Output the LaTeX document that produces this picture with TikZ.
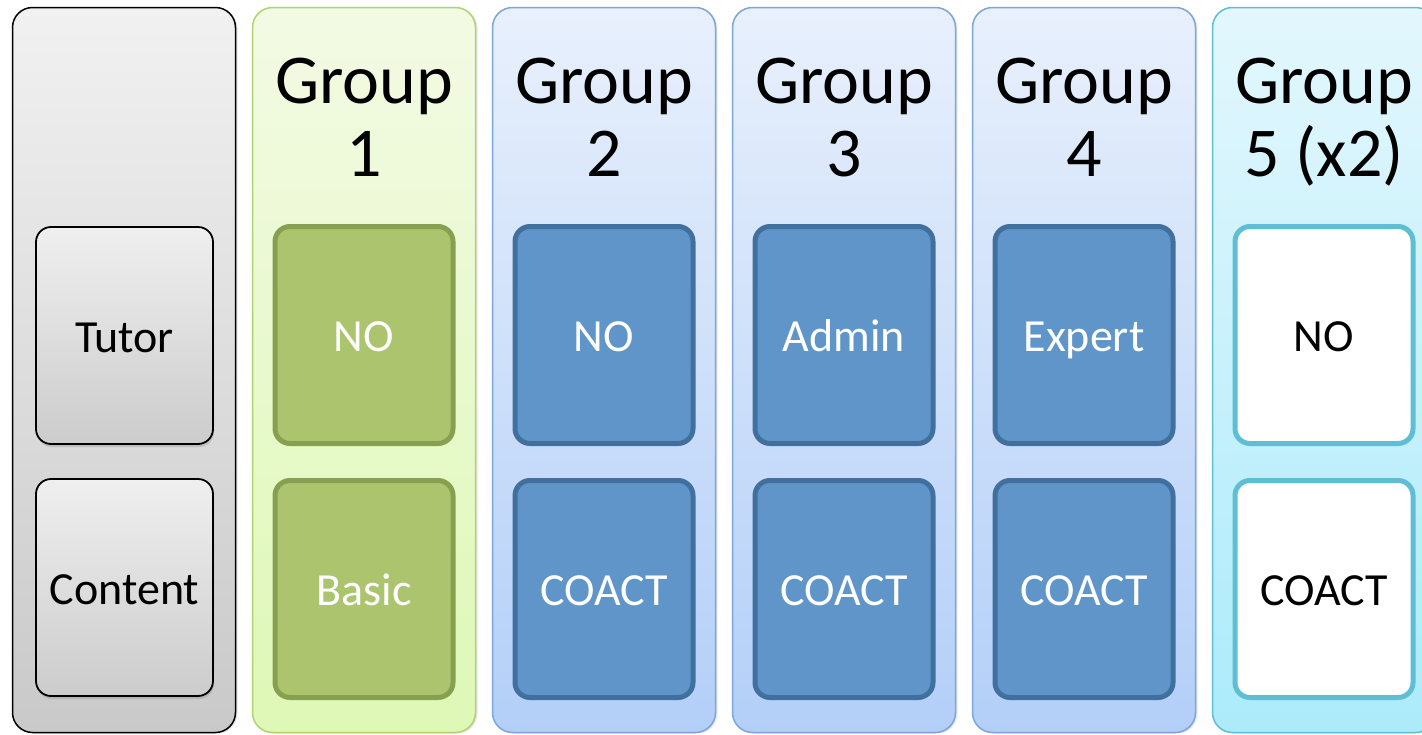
\documentclass[tikz,border=0pt]{standalone}
\usepackage{fontspec}
\setmainfont{Carlito}
\usetikzlibrary{shadows}
\definecolor{grayTop}{HTML}{F1F1F1}
\definecolor{grayBot}{HTML}{C9C9C9}
\definecolor{gboxTop}{HTML}{EFEFEF}
\definecolor{gboxBot}{HTML}{CCCCCC}
\definecolor{greenTop}{HTML}{F3FAE4}
\definecolor{greenBot}{HTML}{DEF8B6}
\definecolor{greenLine}{HTML}{B0D372}
\definecolor{greenFill}{HTML}{ABC46D}
\definecolor{greenDark}{HTML}{87A04F}
\definecolor{blueTop}{HTML}{E8F0FC}
\definecolor{blueBot}{HTML}{B3CFF8}
\definecolor{blueLine}{HTML}{7BA5DB}
\definecolor{blueFill}{HTML}{6095C9}
\definecolor{blueDark}{HTML}{41709E}
\definecolor{cyanTop}{HTML}{E3F7FD}
\definecolor{cyanBot}{HTML}{ACEBFB}
\definecolor{cyanLine}{HTML}{5EBED4}
\begin{document}
\begin{tikzpicture}[x=1pt,y=-1pt,
  col/.style={rounded corners=20pt, minimum width=223pt, minimum height=725pt, inner sep=0pt, line width=1.5pt,
    drop shadow={shadow xshift=2pt,shadow yshift=-1pt,opacity=0.2}},
  graycol/.style={col, draw=black, top color=grayTop, bottom color=grayBot},
  greencol/.style={col, draw=greenLine, top color=greenTop, bottom color=greenBot},
  bluecol/.style={col, draw=blueLine, top color=blueTop, bottom color=blueBot},
  cyancol/.style={col, draw=cyanLine, top color=cyanTop, bottom color=cyanBot},
  box/.style={rounded corners=15pt, inner sep=0pt, text height=33pt, text depth=0pt, font=\fontsize{46}{52}\selectfont},
  graybox/.style={box, minimum width=177pt, minimum height=217pt, line width=1.8pt, draw=black,
    top color=gboxTop, bottom color=gboxBot, text=black,
    drop shadow={shadow xshift=1pt,shadow yshift=-3pt,opacity=0.3}},
  thickbox/.style={box, minimum width=178pt, minimum height=217pt, line width=5pt},
  greenbox/.style={thickbox, draw=greenDark, fill=greenFill, text=white},
  bluebox/.style={thickbox, draw=blueDark, fill=blueFill, text=white},
  whitebox/.style={thickbox, draw=cyanLine, fill=white, text=black},
  title/.style={anchor=base, align=center, inner sep=0pt, font=\fontsize{70}{73}\selectfont}
]
\useasboundingbox (0,0) rectangle (1422,734);
% columns
\node[graycol] (c0) at (124,370) {};
\node[greencol] (c1) at (364,370) {};
\node[bluecol] (c2) at (604,370) {};
\node[bluecol] (c3) at (844,370) {};
\node[bluecol] (c4) at (1084,370) {};
\node[cyancol] (c5) at (1324,370) {};
% titles
\node[title] (t1) at (364,176) {Group\\1};
\node[title] (t2) at (604,176) {Group\\2};
\node[title] (t3) at (844,176) {Group\\3};
\node[title] (t4) at (1084,176) {Group\\4};
\node[title] (t5) at (1324,176) {Group\\5 (x2)};
% inner boxes
\node[graybox] (tutor) at (124.5,335.5) {Tutor};
\node[graybox] (content) at (124.5,587.5) {Content};
\node[greenbox] (g1a) at (364,335) {NO};
\node[greenbox] (g1b) at (364,589) {Basic};
\node[bluebox] (g2a) at (604,335) {NO};
\node[bluebox] (g2b) at (604,589) {COACT};
\node[bluebox] (g3a) at (844,335) {Admin};
\node[bluebox] (g3b) at (844,589) {COACT};
\node[bluebox] (g4a) at (1084,335) {Expert};
\node[bluebox] (g4b) at (1084,589) {COACT};
\node[whitebox] (g5a) at (1324,335) {NO};
\node[whitebox] (g5b) at (1324,589) {COACT};
\end{tikzpicture}
\end{document}
